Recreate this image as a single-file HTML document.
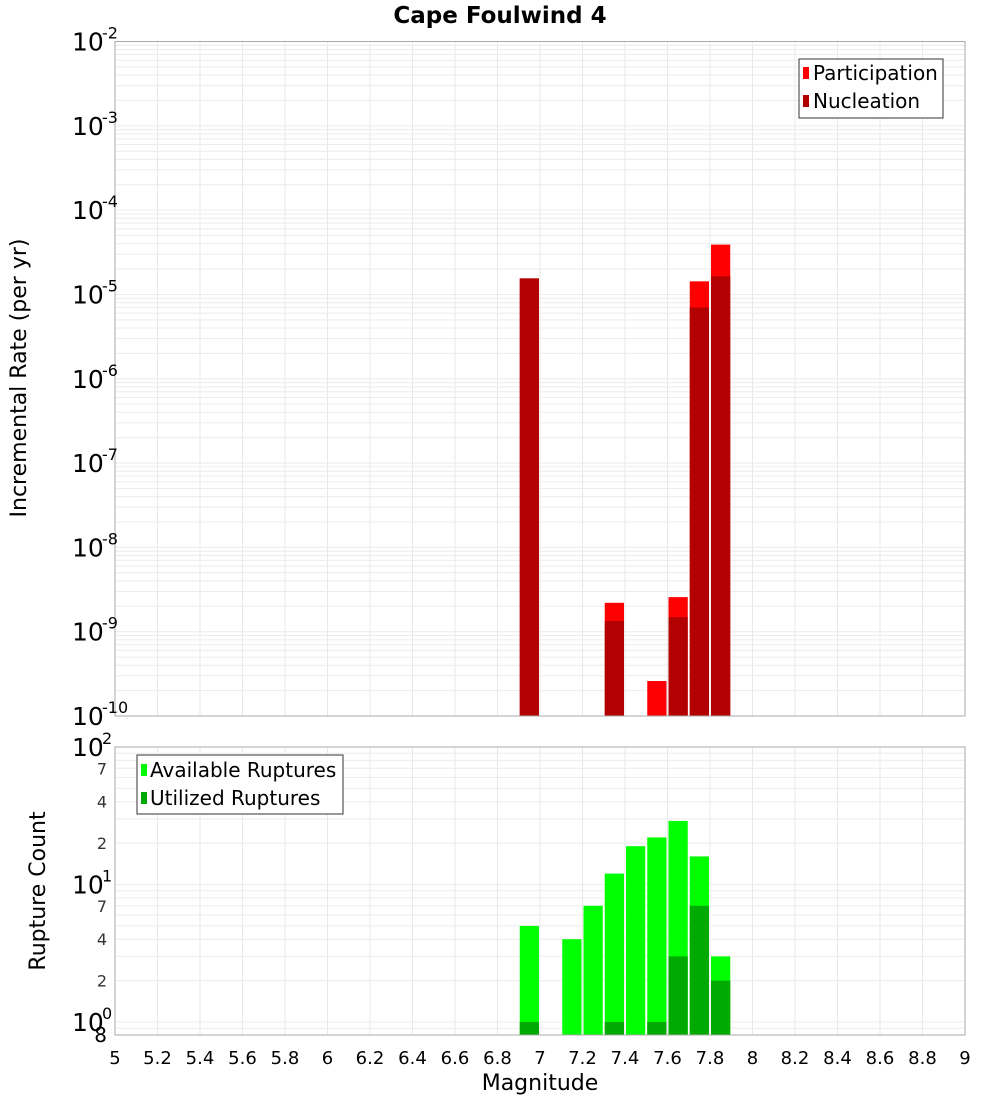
<!DOCTYPE html>
<html><head><meta charset="utf-8"><style>
body{margin:0;background:#fff;font-family:"DejaVu Sans","Liberation Sans",sans-serif;}
svg{display:block}
</style></head><body>
<svg id="chart" width="1000" height="1100" xmlns="http://www.w3.org/2000/svg" font-family="DejaVu Sans, Liberation Sans, sans-serif">
<text x="500" y="23" text-anchor="middle" font-size="23" font-weight="bold">Cape Foulwind 4</text>
<g id="topg"></g>
<g id="botg"></g>
<text transform="translate(26,378) rotate(-90)" text-anchor="middle" font-size="22">Incremental Rate (per yr)</text>
<text transform="translate(45,891) rotate(-90)" text-anchor="middle" font-size="22">Rupture Count</text>
<text x="540" y="1090" text-anchor="middle" font-size="22">Magnitude</text>
<g id="legends">
<g>
<rect x="799" y="59" width="144" height="59" fill="#fff" stroke="#333"/>
<rect x="803" y="67" width="6" height="12" fill="#ff0000"/>
<text x="813" y="80" font-size="20">Participation</text>
<rect x="803" y="95" width="6" height="12" fill="#b30000"/>
<text x="813" y="108" font-size="20">Nucleation</text>
</g>
<g>
<rect x="137" y="755" width="206" height="59" fill="#fff" stroke="#333"/>
<rect x="141" y="764" width="6" height="12" fill="#00ff00"/>
<text x="150" y="777" font-size="20">Available Ruptures</text>
<rect x="141" y="792" width="6" height="12" fill="#00aa00"/>
<text x="150" y="805" font-size="20">Utilized Ruptures</text>
</g>
</g>
</svg>
<script>
const mags=[6.95,7.15,7.25,7.35,7.45,7.55,7.65,7.75,7.85];
const participation=[1.55e-5,0,0,2.2e-9,0,2.6e-10,2.57e-9,1.43e-5,3.9e-5];
const nucleation=[1.55e-5,0,0,1.34e-9,0,0,1.49e-9,7.0e-6,1.64e-5];
const available=[5,4,7,12,19,22,29,16,3];
const utilized=[1,0,0,1,0,1,3,7,2];
const xTicks=["5","5.2","5.4","5.6","5.8","6","6.2","6.4","6.6","6.8","7","7.2","7.4","7.6","7.8","8","8.2","8.4","8.6","8.8","9"];
const NS="http://www.w3.org/2000/svg";
const X0=115,X1=965;
function xs(m){return X0+(m-5)/4*(X1-X0);}
const T0=41.5,T1=716;
function yt(v){return T0+(-2-Math.log10(v))/8*(T1-T0);}
const B0=747,B1=1035;
function yb(v){return 747+(2-Math.log10(v))*137.5;}
function mk(p,tag,a){const e=document.createElementNS(NS,tag);for(const k in a)e.setAttribute(k,a[k]);p.appendChild(e);return e;}
const topG=document.getElementById('topg'),botG=document.getElementById('botg'),svgEl=document.getElementById('chart');
for(let i=0;i<xTicks.length;i++){const x=xs(parseFloat(xTicks[i]));
 const g1=mk(topG,'line',{x1:x,x2:x,y1:T0,y2:T1,stroke:'#e8e8e8'});
 
 
 const g2=mk(botG,'line',{x1:x,x2:x,y1:B0,y2:B1,stroke:'#e8e8e8'});
 
 
 const t=mk(svgEl,'text',{x:x,y:1064,'text-anchor':'middle','font-size':'18'});t.textContent=xTicks[i];
 
 }
for(let d=-10;d<-2;d++)for(let k=1;k<10;k++){const y=yt(k*Math.pow(10,d));
 const l=mk(topG,'line',{x1:X0,x2:X1,y1:y,y2:y,stroke:'#ececec'});
 
 }
for(let d=-1;d<2;d++)for(let k=1;k<10;k++){const v=k*Math.pow(10,d);const y=yb(v);if(y>B1||y<B0)continue;
 const l=mk(botG,'line',{x1:X0,x2:X1,y1:y,y2:y,stroke:'#ececec'});
 
 }
for(let d=-10;d<=-2;d++){const y=yt(Math.pow(10,d));
 const t=mk(svgEl,'text',{x:72,y:y+9,'font-size':'25'});t.textContent='10';
 
 
 const s=mk(svgEl,'text',{x:102,y:y-3,'font-size':'16'});s.textContent=String(d);
 
 }
[[100,'10','2'],[10,'10','1'],[1,'10','0']].forEach(a=>{const y=yb(a[0]);
 const t=mk(svgEl,'text',{x:72,y:y+9,'font-size':'25'});t.textContent=a[1];
 
 
 const s=mk(svgEl,'text',{x:102,y:y-3,'font-size':'16'});s.textContent=a[2];
 
 });
[70,40,20,7,4,2].forEach(v=>{const t=mk(svgEl,'text',{x:107,y:yb(v)+6,'font-size':'16','text-anchor':'end',fill:'#333'});t.textContent=String(v>=10?v/10:v);
 
 });
{const t=mk(svgEl,'text',{x:107,y:1042,'font-size':'20','text-anchor':'end'});t.textContent='8';
 
 }
function bar(p,m,v,yf,base,col,name){if(!v)return;const x=xs(m-0.05)+1,w=xs(m+0.05)-xs(m-0.05)-2,y=yf(v);
 const r=mk(p,'rect',{x:x,y:y,width:w,height:base-y,fill:col});
 
 }
mags.forEach((m,i)=>{bar(topG,m,participation[i],yt,T1,'#ff0000','participation-bar');bar(topG,m,nucleation[i],yt,T1,'#b30000','nucleation-bar');
 bar(botG,m,available[i],yb,B1,'#00ff00','available-bar');bar(botG,m,utilized[i],yb,B1,'#00aa00','utilized-bar');});
{const f=mk(topG,'rect',{x:X0,y:T0,width:X1-X0,height:T1-T0,fill:'none',stroke:'#aaa'});
 
 
 const g=mk(botG,'rect',{x:X0,y:B0,width:X1-X0,height:B1-B0,fill:'none',stroke:'#aaa'});
 
 }
svgEl.appendChild(document.getElementById('legends'));
</script>
</body></html>
